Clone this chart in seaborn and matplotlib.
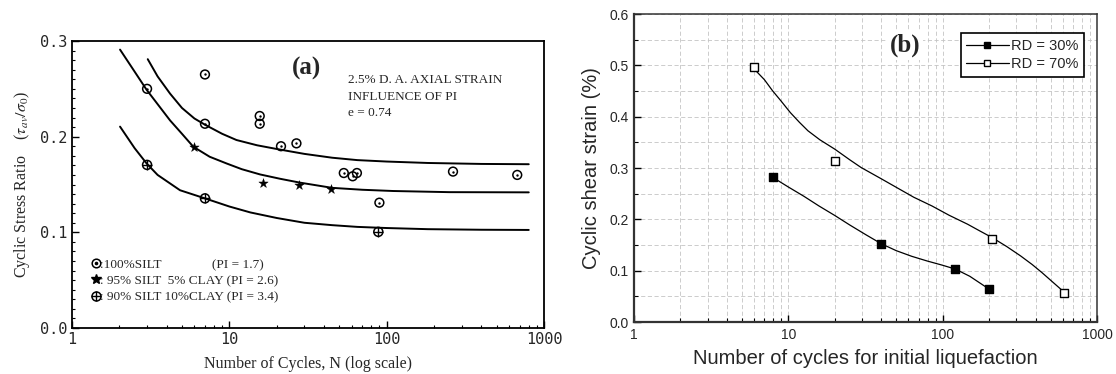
import numpy as np
import pandas as pd
import matplotlib
matplotlib.use("Agg")
import matplotlib.pyplot as plt
import seaborn as sns
from matplotlib.lines import Line2D
from matplotlib.ticker import FixedLocator, FixedFormatter, LogLocator, NullFormatter, MultipleLocator

# ---------------- Panel (a) data ----------------
silt100_N = [3.0, 7.0, 7.0, 15.6, 15.6, 21.3, 26.7, 53.4, 60.8, 64.7, 89.9, 264, 676]
silt100_csr = [0.250, 0.265, 0.2135, 0.2216, 0.2135, 0.190, 0.193, 0.162, 0.1586, 0.162, 0.131, 0.1635, 0.160]
clay5_N = [6.0, 16.4, 27.8, 44.5]
clay5_csr = [0.189, 0.152, 0.150, 0.145]
clay10_N = [3.0, 7.0, 88.5]
clay10_csr = [0.1705, 0.1355, 0.1005]

curve_silt100_N = [3.03, 3.5, 4.2, 5.0, 6.0, 7.0, 9.0, 11.1, 15, 20.5, 30, 45, 65, 100, 183, 400, 800]
curve_silt100_csr = [0.281, 0.263, 0.245, 0.230, 0.219, 0.2125, 0.203, 0.1965, 0.191, 0.1868, 0.182,
                     0.178, 0.1755, 0.174, 0.1725, 0.1715, 0.1712]
curve_clay5_N = [2.02, 2.5, 2.98, 3.5, 4.2, 5.0, 5.9, 7.5, 9.6, 12, 15.7, 21, 28, 45, 70, 110, 250, 800]
curve_clay5_csr = [0.291, 0.268, 0.249, 0.234, 0.217, 0.203, 0.1895, 0.179, 0.172, 0.166, 0.1605, 0.156,
                   0.152, 0.1465, 0.1445, 0.1432, 0.142, 0.1418]
curve_clay10_N = [2.02, 2.5, 2.98, 3.5, 4.86, 7, 10, 13.6, 20, 30, 45, 65, 100, 183, 400, 800]
curve_clay10_csr = [0.2105, 0.188, 0.172, 0.160, 0.144, 0.1355, 0.127, 0.1208, 0.115, 0.110, 0.1075,
                    0.1057, 0.1045, 0.1033, 0.1027, 0.1025]

a_xticks = [1, 10, 100, 1000]
a_xticklabels = ["1", "10", "100", "1000"]
a_yticks = [0.0, 0.1, 0.2, 0.3]
a_yticklabels = ["0.0", "0.1", "0.2", "0.3"]
a_legend_labels = [":100%SILT               (PI = 1.7)",
                   ": 95% SILT  5% CLAY (PI = 2.6)",
                   ": 90% SILT 10%CLAY (PI = 3.4)"]
a_notes = ["2.5% D. A. AXIAL STRAIN", "INFLUENCE OF PI", "e = 0.74"]

# ---------------- Panel (b) data ----------------
rd30_N = [8, 40, 121, 200]
rd30_strain = [0.2815, 0.1515, 0.1027, 0.0637]
rd70_N = [6, 20, 209, 611]
rd70_strain = [0.496, 0.3127, 0.1625, 0.0572]
fit30_N = [8.0, 10, 12.6, 15.8, 20, 25, 31.6, 40, 50, 63, 79, 100, 121, 150, 200]
fit30_strain = [0.281, 0.263, 0.245, 0.226, 0.2075, 0.189, 0.1705, 0.1525, 0.139, 0.128, 0.119,
                0.1105, 0.103, 0.089, 0.064]
fit70_N = [6.0, 7.0, 7.9, 9.0, 10.3, 11.8, 13.4, 16, 20, 25, 29.6, 40, 50.3, 65, 85.3, 110, 145, 175,
           209, 260, 320, 380, 440, 520, 611]
fit70_strain = [0.493, 0.472, 0.4505, 0.430, 0.408, 0.389, 0.3725, 0.355, 0.3367, 0.316, 0.301, 0.279,
                0.262, 0.243, 0.226, 0.208, 0.1905, 0.177, 0.1645, 0.147, 0.1287, 0.112, 0.0962, 0.077, 0.0585]
b_xticks = [1, 10, 100, 1000]
b_xticklabels = ["1", "10", "100", "1000"]
b_yticks = [0.0, 0.1, 0.2, 0.3, 0.4, 0.5, 0.6]
b_yticklabels = ["0.0", "0.1", "0.2", "0.3", "0.4", "0.5", "0.6"]
b_legend_labels = ["RD = 30%", "RD = 70%"]

sns.set_style("white")
plt.rcParams["mathtext.fontset"] = "stix"
plt.rcParams["font.family"] = ["DejaVu Sans"]

W, H = 1116, 374
fig = plt.figure(figsize=(W / 100, H / 100), dpi=100)
axA = fig.add_axes([72 / W, 1 - 328 / H, 472 / W, 287 / H])
axB = fig.add_axes([634 / W, 1 - 322 / H, 463 / W, 308 / H])

serif = "Liberation Serif"
sans = "Liberation Sans"
mono = "DejaVu Sans Mono"

# ---------- Panel (a) ----------
for cx, cy in [(curve_silt100_N, curve_silt100_csr), (curve_clay5_N, curve_clay5_csr),
               (curve_clay10_N, curve_clay10_csr)]:
    sns.lineplot(x=cx, y=cy, ax=axA, color="black", lw=1.4, sort=False, estimator=None)

sns.scatterplot(x=silt100_N, y=silt100_csr, ax=axA, marker="o", s=40, linewidth=1.1)
axA.collections[-1].set_facecolor("none"); axA.collections[-1].set_edgecolor("black")
sns.scatterplot(x=silt100_N, y=silt100_csr, ax=axA, marker="o", s=3, color="black", linewidth=0)
sns.scatterplot(x=clay5_N, y=clay5_csr, ax=axA, marker="*", s=50, color="black", linewidth=0.3,
                edgecolor="black")
sns.scatterplot(x=clay10_N, y=clay10_csr, ax=axA, marker="o", s=42, linewidth=1.1)
axA.collections[-1].set_facecolor("none"); axA.collections[-1].set_edgecolor("black")
sns.scatterplot(x=clay10_N, y=clay10_csr, ax=axA, marker="+", s=42, color="black", linewidth=1.0)

axA.set_xscale("log")
axA.set_xlim(1, 1000)
axA.set_ylim(0, 0.3)
axA.xaxis.set_major_locator(FixedLocator(a_xticks))
axA.xaxis.set_major_formatter(FixedFormatter(a_xticklabels))
axA.xaxis.set_minor_locator(LogLocator(base=10, subs=np.arange(2, 10)))
axA.xaxis.set_minor_formatter(NullFormatter())
axA.yaxis.set_major_locator(FixedLocator(a_yticks))
axA.yaxis.set_major_formatter(FixedFormatter(a_yticklabels))
axA.yaxis.set_minor_locator(MultipleLocator(0.01))
axA.tick_params(which="major", direction="in", length=5, width=1, color="black", labelsize=11, pad=3)
axA.tick_params(which="minor", direction="in", length=2.5, width=0.8, color="black")
axA.tick_params(axis="both", which="both", bottom=True, left=True, top=False, right=False)
for lab in axA.get_xticklabels() + axA.get_yticklabels():
    lab.set_fontfamily(mono)
for sp in axA.spines.values():
    sp.set_color("black"); sp.set_linewidth(1.3)
axA.set_xlabel("Number of Cycles, N (log scale)", fontfamily=serif, fontsize=11.5, labelpad=6)
axA.set_ylabel(r"Cyclic Stress Ratio    ($\tau_{av}/\sigma_0$)", fontfamily=serif, fontsize=11.5, labelpad=6)

axA.text(0.497, 0.906, "(a)", transform=axA.transAxes, ha="center", va="center",
         fontfamily=serif, fontweight="bold", fontsize=18)
for txt, yf in zip(a_notes, [0.864, 0.805, 0.748]):
    axA.text(0.585, yf, txt, transform=axA.transAxes, ha="left", va="center",
             fontfamily=serif, fontsize=9.5)

hA = [(Line2D([], [], marker="o", ls="", mfc="none", mec="black", ms=6.2, mew=1.1),
       Line2D([], [], marker="o", ls="", color="black", ms=1.6)),
      Line2D([], [], marker="*", ls="", color="black", ms=7.5),
      (Line2D([], [], marker="o", ls="", mfc="none", mec="black", ms=6.5, mew=1.1),
       Line2D([], [], marker="+", ls="", color="black", ms=6.5, mew=1.0))]
axA.legend(hA, a_legend_labels, loc="lower left", bbox_to_anchor=(0.015, 0.045), frameon=False,
           handlelength=0.7, handletextpad=0.0, labelspacing=0.3, borderpad=0.4,
           prop={"family": serif, "size": 9.5})

# ---------- Panel (b) ----------
sns.lineplot(x=fit30_N, y=fit30_strain, ax=axB, color="black", lw=0.9, sort=False, estimator=None)
sns.lineplot(x=fit70_N, y=fit70_strain, ax=axB, color="black", lw=0.9, sort=False, estimator=None)
sns.scatterplot(x=rd30_N, y=rd30_strain, ax=axB, marker="s", s=40, color="black", edgecolor="black",
                linewidth=1.0, zorder=5)
sns.scatterplot(x=rd70_N, y=rd70_strain, ax=axB, marker="s", s=40, color="white", edgecolor="black",
                linewidth=1.0, zorder=5)

axB.set_xscale("log")
axB.set_xlim(1, 1000)
axB.set_ylim(0, 0.6)
axB.xaxis.set_major_locator(FixedLocator(b_xticks))
axB.xaxis.set_major_formatter(FixedFormatter(b_xticklabels))
axB.xaxis.set_minor_locator(LogLocator(base=10, subs=np.arange(2, 10)))
axB.xaxis.set_minor_formatter(NullFormatter())
axB.yaxis.set_major_locator(FixedLocator(b_yticks))
axB.yaxis.set_major_formatter(FixedFormatter(b_yticklabels))
axB.yaxis.set_minor_locator(MultipleLocator(0.05))
axB.grid(which="both", color="#c4c4c4", ls=(0, (5, 3)), lw=0.6)
axB.set_axisbelow(True)
axB.tick_params(which="major", direction="in", length=5, width=1, color="black", labelsize=10, pad=4)
axB.tick_params(which="minor", direction="in", length=3, width=0.8, color="black")
axB.tick_params(axis="both", which="both", bottom=True, left=True, top=False, right=False)
for lab in axB.get_xticklabels() + axB.get_yticklabels():
    lab.set_fontfamily(sans)
for sp in axB.spines.values():
    sp.set_color("#333333"); sp.set_linewidth(1.1)
axB.spines["left"].set_linewidth(1.6); axB.spines["bottom"].set_linewidth(1.6)
axB.set_xlabel("Number of cycles for initial liquefaction", fontfamily=sans, fontsize=14.5, labelpad=5)
axB.set_ylabel("Cyclic shear strain (%)", fontfamily=sans, fontsize=14.5, labelpad=6)

axB.text(0.586, 0.897, "(b)", transform=axB.transAxes, ha="center", va="center",
         fontfamily=serif, fontweight="bold", fontsize=18,
         bbox=dict(facecolor="white", edgecolor="none", pad=2))

hB = [Line2D([], [], color="black", lw=0.9, marker="s", mfc="black", mec="black", ms=5),
      Line2D([], [], color="black", lw=0.9, marker="s", mfc="white", mec="black", ms=5)]
legB = axB.legend(hB, b_legend_labels, loc="upper right", bbox_to_anchor=(0.972, 0.938),
                  borderaxespad=0, frameon=True, fancybox=False, framealpha=1,
                  edgecolor="black", handlelength=2.9, handletextpad=0.15, labelspacing=0.3,
                  borderpad=0.4, prop={"family": sans, "size": 10.5})
legB.get_frame().set_linewidth(1.2)

fig.savefig("out.png", dpi=100)
